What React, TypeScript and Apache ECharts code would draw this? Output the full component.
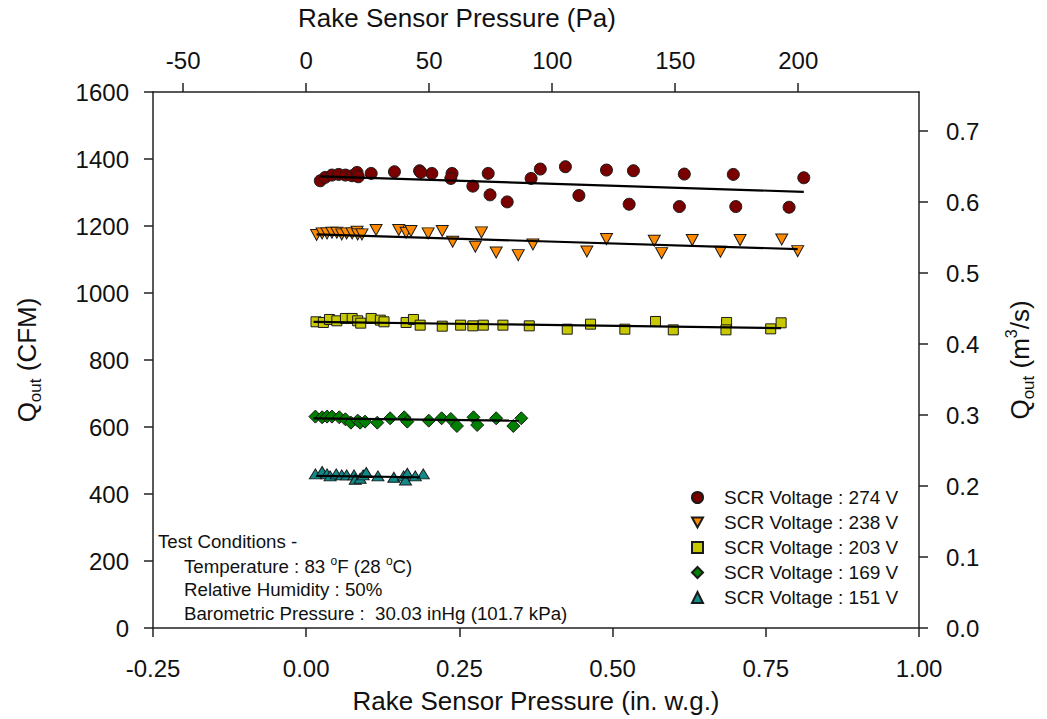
import React, { useEffect, useRef } from "react";
import * as echarts from "echarts";

const PA_PER_INWG = 249.0889;
const CFM_PER_M3S = 2118.88;

const FONT = '"Liberation Sans", Arial, Helvetica, sans-serif';

const seriesNames = [
  "SCR Voltage : 274 V",
  "SCR Voltage : 238 V",
  "SCR Voltage : 203 V",
  "SCR Voltage : 169 V",
  "SCR Voltage : 151 V",
];
const seriesColors = ["#7a0000", "#ff8a00", "#c8c800", "#008000", "#118a8a"];
const seriesSymbols = ["circle", "path://M0,0L10,0L5,9Z", "rect", "diamond", "triangle"];
const seriesSymbolSizes: any[] = [12, [12, 11], 10, 13, [12, 10]];

// in. w.g. (x) and CFM (y)
const x274 = [0.023, 0.031, 0.042, 0.053, 0.064, 0.075, 0.083, 0.085, 0.106, 0.144, 0.185, 0.187, 0.205, 0.238, 0.236, 0.272, 0.297, 0.3, 0.328, 0.367, 0.382, 0.423, 0.445, 0.49, 0.534, 0.527, 0.617, 0.609, 0.697, 0.701, 0.788, 0.812];
const y274 = [1335, 1345, 1352, 1354, 1352, 1350, 1360, 1347, 1357, 1362, 1365, 1360, 1357, 1357, 1342, 1319, 1357, 1293, 1272, 1342, 1370, 1377, 1291, 1367, 1365, 1265, 1355, 1258, 1354, 1258, 1256, 1344];

const x238 = [0.017, 0.026, 0.034, 0.042, 0.05, 0.058, 0.066, 0.075, 0.083, 0.084, 0.091, 0.114, 0.151, 0.163, 0.171, 0.199, 0.222, 0.239, 0.276, 0.286, 0.31, 0.346, 0.37, 0.458, 0.49, 0.568, 0.58, 0.63, 0.676, 0.708, 0.776, 0.802];
const y238 = [1173, 1178, 1178, 1180, 1180, 1175, 1178, 1178, 1183, 1175, 1175, 1188, 1188, 1180, 1185, 1178, 1185, 1153, 1138, 1181, 1121, 1113, 1145, 1124, 1161, 1156, 1119, 1158, 1123, 1158, 1160, 1125];

const x203 = [0.016, 0.028, 0.038, 0.05, 0.064, 0.075, 0.084, 0.089, 0.106, 0.121, 0.127, 0.163, 0.175, 0.186, 0.222, 0.252, 0.272, 0.289, 0.321, 0.364, 0.426, 0.464, 0.52, 0.57, 0.599, 0.686, 0.685, 0.758, 0.775];
const y203 = [914, 912, 921, 917, 924, 924, 917, 910, 924, 919, 914, 912, 921, 904, 901, 904, 902, 904, 904, 902, 892, 907, 892, 915, 890, 912, 890, 893, 911];

const x169 = [0.015, 0.026, 0.034, 0.042, 0.054, 0.064, 0.073, 0.084, 0.088, 0.096, 0.116, 0.137, 0.16, 0.165, 0.2, 0.221, 0.236, 0.246, 0.273, 0.279, 0.31, 0.338, 0.351];
const y169 = [631, 629, 631, 631, 629, 623, 613, 619, 613, 616, 613, 626, 629, 616, 619, 626, 624, 603, 629, 606, 626, 603, 626];

const x151 = [0.015, 0.026, 0.034, 0.039, 0.049, 0.058, 0.066, 0.078, 0.08, 0.088, 0.093, 0.098, 0.117, 0.143, 0.159, 0.162, 0.165, 0.178, 0.191];
const y151 = [460, 467, 460, 454, 460, 457, 457, 457, 444, 447, 457, 464, 454, 450, 454, 442, 462, 454, 460];

// linear fit lines: start/end
const trendX = [[0.023, 0.812], [0.017, 0.802], [0.012, 0.775], [0.012, 0.347], [0.017, 0.186]];
const trendY = [[1348, 1302], [1175, 1131], [914, 895], [626, 619], [454, 450]];

const paTicks = [-50, 0, 50, 100, 150, 200];
const m3sTicks = [0, 0.1, 0.2, 0.3, 0.4, 0.5, 0.6, 0.7];

const allX = [x274, x238, x203, x169, x151];
const allY = [y274, y238, y203, y169, y151];

const axisLineStyle = { color: "#222", width: 1.5 };
const labelBase = { fontSize: 24, color: "#111", fontFamily: FONT };

function buildOption() {
  const scatter = seriesNames.map((name, i) => ({
    name,
    type: "scatter",
    xAxisIndex: 0,
    yAxisIndex: 0,
    symbol: seriesSymbols[i],
    symbolSize: seriesSymbolSizes[i],
    itemStyle: { color: seriesColors[i], borderColor: "#1a1a1a", borderWidth: 1, opacity: 1 },
    data: allX[i].map((x, k) => [x, allY[i][k]]),
    z: 2,
  }));
  const trends = trendX.map((xs, i) => ({
    name: "fit " + i,
    type: "line",
    xAxisIndex: 0,
    yAxisIndex: 0,
    showSymbol: false,
    symbol: "none",
    lineStyle: { color: "#000", width: 2.2 },
    itemStyle: { color: "#000" },
    data: xs.map((x, k) => [x, trendY[i][k]]),
    z: 3,
  }));

  const sub = { fontSize: 17, lineHeight: 17, verticalAlign: "bottom", fontFamily: FONT, fill: "#111" };
  const sup = { fontSize: 16, lineHeight: 16, verticalAlign: "top", fontFamily: FONT, fill: "#111" };
  const main = { fontSize: 26, lineHeight: 33, fontFamily: FONT, fill: "#111" };
  const aMain = { fontSize: 18.7, lineHeight: 22, fontFamily: FONT, fill: "#111" };
  const aSup = { fontSize: 12, lineHeight: 12, verticalAlign: "top", fontFamily: FONT, fill: "#111" };

  return {
    animation: false,
    backgroundColor: "#fff",
    textStyle: { fontFamily: FONT },
    grid: { left: 153, right: 128, top: 92, bottom: 91, containLabel: false },
    xAxis: [
      {
        type: "value",
        position: "bottom",
        min: -0.25,
        max: 1,
        interval: 0.25,
        axisLine: { show: true, onZero: false, lineStyle: axisLineStyle },
        axisTick: { show: true, length: 9, lineStyle: axisLineStyle },
        axisLabel: { ...labelBase, margin: 28, formatter: (v: number) => v.toFixed(2) },
        splitLine: { show: false },
      },
      {
        type: "value",
        position: "top",
        min: -0.25 * PA_PER_INWG,
        max: 1 * PA_PER_INWG,
        axisLine: { show: true, onZero: false, lineStyle: axisLineStyle },
        axisTick: { show: true, length: 9, lineStyle: axisLineStyle, customValues: paTicks },
        axisLabel: { ...labelBase, margin: 20, customValues: paTicks, formatter: (v: number) => String(Math.round(v)) },
        splitLine: { show: false },
      },
    ],
    yAxis: [
      {
        type: "value",
        position: "left",
        min: 0,
        max: 1600,
        interval: 200,
        axisLine: { show: true, onZero: false, lineStyle: axisLineStyle },
        axisTick: { show: true, length: 9, lineStyle: axisLineStyle },
        axisLabel: { ...labelBase, margin: 24, formatter: (v: number) => String(v) },
        splitLine: { show: false },
      },
      {
        type: "value",
        position: "right",
        min: 0,
        max: 1600 / CFM_PER_M3S,
        axisLine: { show: true, onZero: false, lineStyle: axisLineStyle },
        axisTick: { show: true, length: 9, lineStyle: axisLineStyle, customValues: m3sTicks },
        axisLabel: { ...labelBase, margin: 27, customValues: m3sTicks, formatter: (v: number) => v.toFixed(1) },
        splitLine: { show: false },
      },
    ],
    legend: {
      data: seriesNames,
      orient: "vertical",
      left: 686,
      top: 483,
      itemWidth: 11,
      itemHeight: 11,
      itemGap: 6,
      textStyle: { fontSize: 19, lineHeight: 19, color: "#111", fontFamily: FONT, padding: [0, 0, 0, 16] },
    },
    graphic: [
      {
        type: "text",
        x: 457,
        y: 18,
        style: { text: "Rake Sensor Pressure (Pa)", fontSize: 26, fontFamily: FONT, fill: "#111", align: "center", verticalAlign: "middle" },
      },
      {
        type: "text",
        x: 536,
        y: 701,
        style: { text: "Rake Sensor Pressure (in. w.g.)", fontSize: 26, fontFamily: FONT, fill: "#111", align: "center", verticalAlign: "middle" },
      },
      {
        type: "text",
        x: 27,
        y: 360,
        rotation: Math.PI / 2,
        style: {
          text: "{m|Q}{s|out}{m| (CFM)}",
          rich: { m: main, s: sub },
          align: "center",
          verticalAlign: "middle",
        },
      },
      {
        type: "text",
        x: 1020,
        y: 360,
        rotation: Math.PI / 2,
        style: {
          text: "{m|Q}{s|out}{m| (m}{p|3}{m|/s)}",
          rich: { m: main, s: sub, p: sup },
          align: "center",
          verticalAlign: "middle",
        },
      },
      {
        type: "text",
        x: 158,
        y: 541,
        style: { text: "Test Conditions -", fontSize: 18.7, fontFamily: FONT, fill: "#111", verticalAlign: "middle" },
      },
      {
        type: "text",
        x: 184,
        y: 566,
        style: {
          text: "{m|Temperature : 83 }{p|o}{m|F (28 }{p|o}{m|C)}",
          rich: { m: aMain, p: aSup },
          verticalAlign: "middle",
        },
      },
      {
        type: "text",
        x: 184,
        y: 589,
        style: { text: "Relative Humidity : 50%", fontSize: 18.7, fontFamily: FONT, fill: "#111", verticalAlign: "middle" },
      },
      {
        type: "text",
        x: 184,
        y: 613,
        style: { text: "Barometric Pressure :  30.03 inHg (101.7 kPa)", fontSize: 18.7, fontFamily: FONT, fill: "#111", verticalAlign: "middle" },
      },
    ],
    series: [...scatter, ...trends],
  };
}

export default function App() {
  const ref = useRef<HTMLDivElement>(null);
  useEffect(() => {
    if (!ref.current) return;
    const chart = echarts.init(ref.current, null, { renderer: "svg" });
    chart.setOption(buildOption() as any);
    return () => chart.dispose();
  }, []);
  return <div ref={ref} style={{ position: "absolute", left: 0, top: 0, width: 1047, height: 719 }} />;
}
